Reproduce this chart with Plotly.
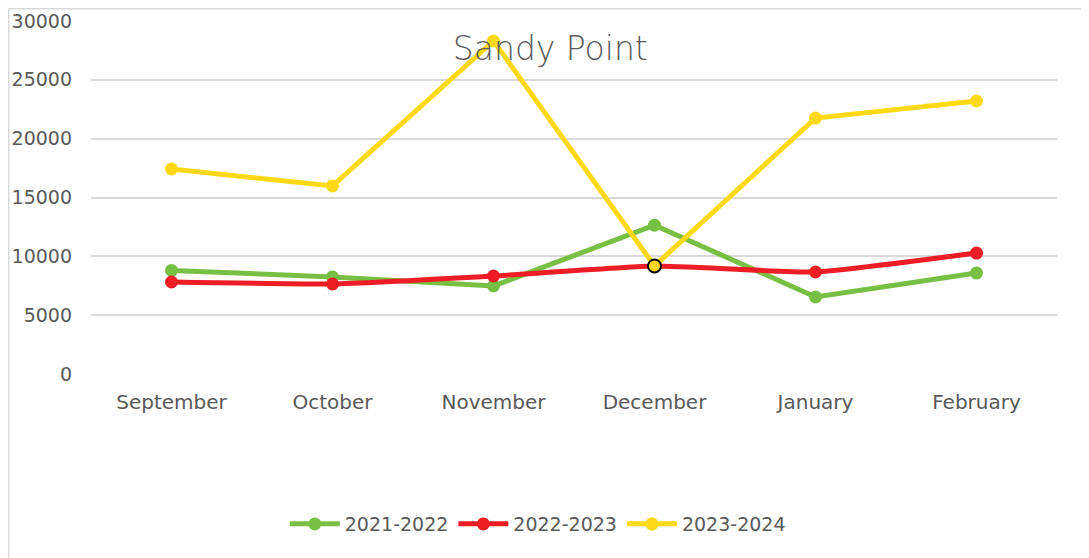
import plotly.graph_objects as go

# Data
months = ["September", "October", "November", "December", "January", "February"]
s2021 = [8800, 8250, 7480, 12650, 6550, 8580]
s2022 = [7820, 7650, 8330, 9180, 8670, 10280]
s2023 = [17420, 15980, 28300, 9180, 21750, 23200]

font_family = "'DejaVu Sans', sans-serif"
text_color = "#595959"

fig = go.Figure()

fig.add_trace(go.Scatter(
    x=months, y=s2021, name="2021-2022", mode="lines+markers",
    line=dict(color="#78C043", width=5),
    marker=dict(color="#78C043", size=13),
))
fig.add_trace(go.Scatter(
    x=months, y=s2022, name="2022-2023", mode="lines+markers",
    line=dict(color="#EE1C25", width=5, shape="spline", smoothing=0.4),
    marker=dict(color="#EE1C25", size=13),
))
# December point of the 2023-2024 series has a black outline
fig.add_trace(go.Scatter(
    x=months, y=s2023, name="2023-2024", mode="lines+markers",
    line=dict(color="#FFD916", width=5),
    marker=dict(
        color="#FFD916", size=13,
        line=dict(color=["#FFD916", "#FFD916", "#FFD916", "#000000", "#FFD916", "#FFD916"],
                  width=[0, 0, 0, 2, 0, 0]),
    ),
))

# Outer chart border (top and left edges)
fig.add_shape(type="line", xref="paper", yref="paper",
              x0=-0.0854, x1=1.1, y0=1.0354, y1=1.0354,
              line=dict(color="#D9D9D9", width=2))
fig.add_shape(type="line", xref="paper", yref="paper",
              x0=-0.0854, x1=-0.0854, y0=1.0354, y1=-0.6,
              line=dict(color="#D9D9D9", width=2))

fig.update_layout(
    width=1089, height=558,
    margin=dict(l=83, r=40, t=13, b=192, autoexpand=False),
    paper_bgcolor="white", plot_bgcolor="white",
    font=dict(family=font_family, color=text_color, size=19),
    title=dict(text="Sandy Point", x=0.498, xanchor="center",
               y=1 - 40 / 558, yanchor="middle",
               font=dict(size=33, color=text_color,
                         family="'DejaVu Sans Light', 'DejaVu Sans', sans-serif")),
    xaxis=dict(range=[-0.5, 5.5], showgrid=False, showline=False, zeroline=False,
               ticks="", tickfont=dict(size=20), ticklabelstandoff=14),
    yaxis=dict(range=[0, 30000], dtick=5000, showgrid=True,
               gridcolor="#D9D9D9", gridwidth=2, zeroline=False,
               showline=False, ticks="", tickfont=dict(size=19),
               ticklabelstandoff=18, tickformat="d"),
    legend=dict(orientation="h", x=0.4625, xanchor="center",
                y=-0.425, yanchor="middle",
                font=dict(size=19, color=text_color),
                itemwidth=50, traceorder="normal"),
    showlegend=True,
)

fig.write_html("out.html")
